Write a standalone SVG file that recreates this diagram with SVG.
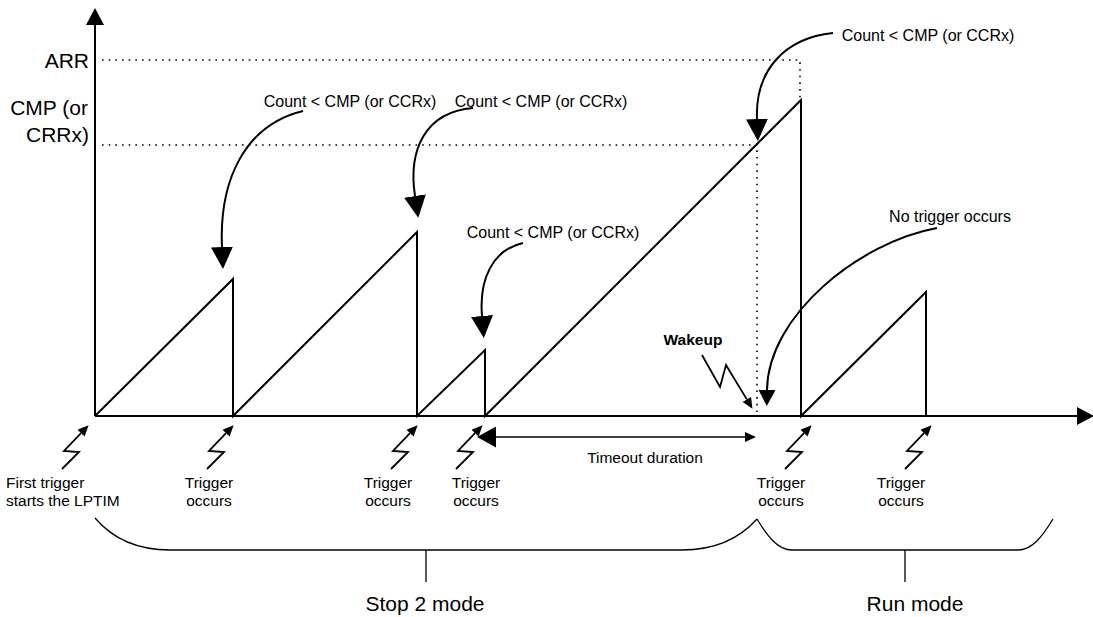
<svg xmlns="http://www.w3.org/2000/svg" width="1093" height="617" viewBox="0 0 1093 617">
<style>
text{font-family:"Liberation Sans",Arial,Helvetica,sans-serif;fill:#000}
.big{font-size:21px}
.sm{font-size:15.5px}
.cnt{font-size:16px;text-anchor:middle}
.mid{text-anchor:middle}
.end{text-anchor:end}
.line{fill:none;stroke:#000;stroke-width:2;stroke-linejoin:miter}
.thin{fill:none;stroke:#000;stroke-width:1.3}
.dot{fill:none;stroke:#000;stroke-width:1.6;stroke-dasharray:1.6 5.07}
.curve{fill:none;stroke:#000;stroke-width:2;marker-end:url(#bigArrow)}
.bolt{fill:none;stroke:#000;stroke-width:1.8;stroke-linejoin:miter;marker-end:url(#smallArrow)}
</style>
<defs>
<marker id="bigArrow" markerUnits="userSpaceOnUse" markerWidth="22" markerHeight="22" viewBox="0 0 21 21" refX="0" refY="10.5" orient="auto"><path d="M0,0 L21,10.5 L0,21 z" fill="#000"/></marker>
<marker id="midArrow" markerUnits="userSpaceOnUse" markerWidth="16" markerHeight="17" viewBox="0 0 15 16" refX="0" refY="8" orient="auto"><path d="M0,0 L15,8 L0,16 z" fill="#000"/></marker>
<marker id="smallArrow" markerUnits="userSpaceOnUse" markerWidth="11" markerHeight="10" viewBox="0 0 10 9" refX="0" refY="4.5" orient="auto"><path d="M0,0 L10,4.5 L0,9 z" fill="#000"/></marker>
<marker id="axisArrow" markerUnits="userSpaceOnUse" markerWidth="17" markerHeight="18" viewBox="0 0 16 17" refX="0" refY="8.5" orient="auto"><path d="M0,0 L16,8.5 L0,17 z" fill="#000"/></marker>
<marker id="toLeft" markerUnits="userSpaceOnUse" markerWidth="19" markerHeight="21" viewBox="0 0 18 20" refX="0" refY="10" orient="auto-start-reverse"><path d="M0,0 L18,10 L0,20 z" fill="#000"/></marker>
<path id="bolt" class="bolt" d="M-26,43 L-9,26 L-24,25 L-7,7.2"/>
</defs>

<g id="axes">
<path class="line" d="M95,416 L95,25" marker-end="url(#axisArrow)"/>
<path class="line" d="M95,416 L1077,416" marker-end="url(#axisArrow)"/>
<text class="big end" x="89" y="68">ARR</text>
<text class="big end" x="88" y="115">CMP (or</text>
<text class="big end" x="89" y="142">CRRx)</text>
</g>

<g id="guides">
<path class="dot" d="M102,60 L800,60 L800,100"/>
<path class="dot" d="M102,145 L757,145 L757,416"/>
</g>

<g id="counter">
<path class="line" d="M95,416 L233,279 L233,416 L417,232 L417,416 L485,350 L485,416 L801,100 L801,416 L926,292 L926,416"/>
</g>

<g id="connectors">
<path class="curve" d="M303,111 C245,125 219,180 222,247"/>
<path class="curve" d="M473,108 C425,112 408,150 415,196"/>
<path class="curve" d="M523,243 C492,250 479,280 482,316"/>
<path class="curve" d="M833,33 C785,38 755,70 757,119"/>
<path fill="none" stroke="#000" stroke-width="2" marker-end="url(#midArrow)" d="M937,228 C860,242 768,315 767,390"/>
<path fill="none" stroke="#000" stroke-width="1.5" marker-start="url(#toLeft)" marker-end="url(#smallArrow)" d="M496,437 L745,437"/>
<path class="bolt" d="M702,355 L720,387 L726,365 L746.8,399.4"/>
</g>

<g id="labels-count">
<text class="cnt" x="350" y="107">Count &lt; CMP (or CCRx)</text>
<text class="cnt" x="541" y="107">Count &lt; CMP (or CCRx)</text>
<text class="cnt" x="553" y="238">Count &lt; CMP (or CCRx)</text>
<text class="cnt" x="928" y="41">Count &lt; CMP (or CCRx)</text>
<text class="cnt" x="950" y="222">No trigger occurs</text>
<text class="sm mid" x="693" y="345" font-weight="bold">Wakeup</text>
<text class="sm mid" x="645" y="463">Timeout duration</text>
</g>

<g id="triggers">
<use href="#bolt" x="88" y="426"/>
<use href="#bolt" x="233" y="426"/>
<use href="#bolt" x="417" y="426"/>
<use href="#bolt" x="482" y="426"/>
<use href="#bolt" x="811" y="426"/>
<use href="#bolt" x="931" y="426"/>
<text class="sm" x="6" y="488">First trigger</text>
<text class="sm" x="6" y="506">starts the LPTIM</text>
<text class="sm mid" x="209" y="488">Trigger</text>
<text class="sm mid" x="209" y="506">occurs</text>
<text class="sm mid" x="388" y="488">Trigger</text>
<text class="sm mid" x="388" y="506">occurs</text>
<text class="sm mid" x="476" y="488">Trigger</text>
<text class="sm mid" x="476" y="506">occurs</text>
<text class="sm mid" x="781" y="488">Trigger</text>
<text class="sm mid" x="781" y="506">occurs</text>
<text class="sm mid" x="901" y="488">Trigger</text>
<text class="sm mid" x="901" y="506">occurs</text>
</g>

<g id="stop2-brace">
<path class="thin" d="M95,518 C112,538 135,550 170,550 L682,550 C717,550 740,538 757,519"/>
<path class="thin" d="M426,550 L426,582"/>
<text class="big mid" x="425" y="611">Stop 2 mode</text>
</g>

<g id="run-brace">
<path class="thin" d="M757,519 C768,537 778,550 792,550 L1018,550 C1032,550 1042,537 1053,519"/>
<path class="thin" d="M905,550 L905,582"/>
<text class="big mid" x="915" y="611">Run mode</text>
</g>
</svg>
